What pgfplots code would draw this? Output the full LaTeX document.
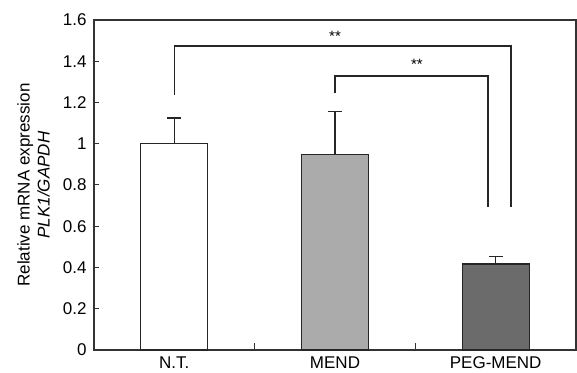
\documentclass[border=0pt]{standalone}
\usepackage{pgfplots}
\pgfplotsset{compat=1.18}
\usepackage{fontspec}
\setmainfont{Liberation Sans}
\begin{document}
\begin{tikzpicture}
\path[use as bounding box] (0,0) rectangle (577pt,372pt);
\begin{axis}[
  at={(94pt,22pt)}, anchor=south west,
  scale only axis, width=482pt, height=330pt,
  xmin=-0.5, xmax=2.5, ymin=0, ymax=1.6,
  axis line style={line width=1.5pt, black!80},
  xtick={0,1,2}, xticklabels={N.T., MEND, PEG-MEND},
  major x tick style={draw=none},
  minor xtick={0.5,1.5}, minor tick length=7pt,
  minor x tick style={line width=1pt, black!80},
  xtick pos=bottom,
  ytick={0,0.2,0.4,0.6,0.8,1,1.2,1.4,1.6},
  yticklabels={0,0.2,0.4,0.6,0.8,1,1.2,1.4,1.6},
  ytick pos=left, tick align=inside, major tick length=5pt,
  major y tick style={line width=1pt, black!80},
  ticklabel style={font=\fontsize{17}{19}\selectfont},
  xticklabel style={yshift=-3pt},
  yticklabel style={xshift=-4pt},
  ylabel={Relative mRNA expression\\\textit{PLK1/GAPDH}},
  ylabel style={align=center, font=\fontsize{17}{20}\selectfont, at={(axis description cs:0,0.5)}, anchor=south, inner sep=0pt, yshift=44pt},
  error bars/y dir=plus, error bars/y explicit,
  error bars/error bar style={line width=1.2pt, black!85},
  error bars/error mark options={line width=1.2pt, black!85, mark size=7pt, rotate=90},
]
\addplot[ybar, bar width=67pt, bar shift=0pt, draw=black!85, line width=1.2pt, fill=white]
  coordinates {(0,1.0) +- (0,0.125)};
\addplot[ybar, bar width=67pt, bar shift=0pt, draw=black!85, line width=1.2pt, fill=black!33]
  coordinates {(1,0.946) +- (0,0.21)};
\addplot[ybar, bar width=67pt, bar shift=0pt, draw=black!85, line width=1.2pt, fill=black!58]
  coordinates {(2,0.417) +- (0,0.035)};
\addplot[black!85, line width=1.3pt, mark=none, sharp plot]
  coordinates {(0,1.236) (0,1.474) (2.095,1.474) (2.095,0.693)};
\addplot[black!85, line width=1.3pt, mark=none, sharp plot]
  coordinates {(1,1.247) (1,1.328) (1.952,1.328) (1.952,0.693)};
\node[font=\fontsize{15}{16}\selectfont] at (axis cs:1,1.52) {**};
\node[font=\fontsize{15}{16}\selectfont] at (axis cs:1.51,1.385) {**};
\end{axis}
\end{tikzpicture}
\end{document}
